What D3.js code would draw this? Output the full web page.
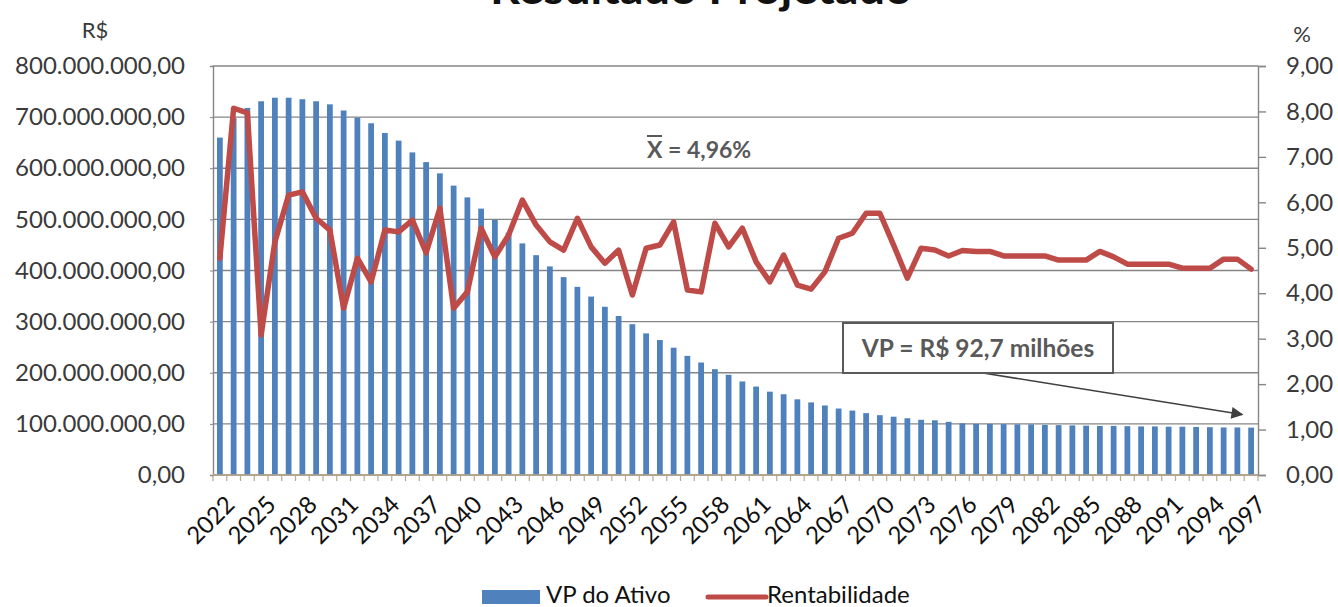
<!DOCTYPE html>
<html lang="pt-BR">
<head>
<meta charset="utf-8">
<script src="https://cdn.jsdelivr.net/npm/d3@7"></script>
<style>
  html, body { margin: 0; padding: 0; background: #fff; }
  svg { display: block; font-family: Lato, "Open Sans", sans-serif; }
</style>
</head>
<body>
<svg id="chart" width="1338" height="607"></svg>
<script>
// Anos da projeção
const years = [
  "2022","2023","2024","2025","2026","2027","2028","2029","2030","2031",
  "2032","2033","2034","2035","2036","2037","2038","2039","2040","2041",
  "2042","2043","2044","2045","2046","2047","2048","2049","2050","2051",
  "2052","2053","2054","2055","2056","2057","2058","2059","2060","2061",
  "2062","2063","2064","2065","2066","2067","2068","2069","2070","2071",
  "2072","2073","2074","2075","2076","2077","2078","2079","2080","2081",
  "2082","2083","2084","2085","2086","2087","2088","2089","2090","2091",
  "2092","2093","2094","2095","2096","2097"
];

// Valor presente do ativo (R$ milhões)
const vpAtivo = [
  660, 698, 718, 731, 738, 738, 735, 731, 725, 713,
  699, 688, 669, 654, 631, 612, 590, 566, 543, 521,
  499, 474, 453, 430, 408, 387, 368, 349, 329, 311,
  295, 277, 264, 249, 233, 220, 207, 196, 183, 173,
  163, 158, 148, 142, 136, 130, 126, 121, 117, 114,
  111, 108, 107, 104, 101, 100, 100, 99.5, 99, 99,
  98, 97.5, 97, 96.5, 96, 96, 95.5, 95, 95, 94.5,
  94.5, 94, 93.5, 93, 93, 92.7
];

// Rentabilidade anual (%)
const rentabilidade = [
  4.77, 8.07, 7.97, 3.08, 5.13, 6.16, 6.23, 5.65, 5.39, 3.67,
  4.77, 4.25, 5.39, 5.35, 5.61, 4.89, 5.87, 3.67, 4.03, 5.43,
  4.80, 5.28, 6.05, 5.50, 5.13, 4.95, 5.65, 5.02, 4.66, 4.95,
  3.96, 4.99, 5.06, 5.57, 4.07, 4.03, 5.54, 5.02, 5.43, 4.69,
  4.25, 4.84, 4.18, 4.09, 4.47, 5.21, 5.32, 5.76, 5.76, 5.06,
  4.33, 4.99, 4.95, 4.82, 4.94, 4.92, 4.92, 4.82, 4.82, 4.82,
  4.82, 4.73, 4.73, 4.73, 4.92, 4.80, 4.64, 4.64, 4.64, 4.64,
  4.55, 4.55, 4.55, 4.75, 4.75, 4.53
];

// Ticks dos eixos
const leftTicks = [0, 100, 200, 300, 400, 500, 600, 700, 800];       // R$ milhões
const rightTicks = [0, 1, 2, 3, 4, 5, 6, 7, 8, 9];                   // %
const mediaRentabilidade = 4.96;

const ptBR = d3.formatLocale({ decimal: ",", thousands: ".", grouping: [3], currency: ["R$ ", ""] });
const fmtMoney = ptBR.format(",.2f");
const fmtPct = ptBR.format(",.2f");
const fmtMilhoes = ptBR.format(",.1f");

const BLUE = "#4f81bd", RED = "#be4b48", GRID = "#868686", TXT = "#3a3a3a", NOTE = "#595959";

const svg = d3.select("#chart");
const plot = { left: 213, right: 1258, top: 66, bottom: 475 };

const x = d3.scaleBand().domain(years).range([plot.left, plot.right])
  .paddingInner(0.58).paddingOuter(0.29);
const yL = d3.scaleLinear().domain([0, 800]).range([plot.bottom, plot.top]);
const yR = d3.scaleLinear().domain([0, 9]).range([plot.bottom, plot.top]);

// Título
svg.append("text")
  .attr("x", 701).attr("y", 4)
  .attr("text-anchor", "middle")
  .attr("font-size", 44).attr("font-weight", 700).attr("fill", "#111")
  .attr("textLength", 422).attr("lengthAdjust", "spacingAndGlyphs")
  .text("Resultado Projetado");

// Unidades dos eixos
svg.append("text").attr("x", 95).attr("y", 38).attr("text-anchor", "middle")
  .attr("font-size", 22).attr("fill", TXT).text("R$");
svg.append("text").attr("x", 1302).attr("y", 42).attr("text-anchor", "middle")
  .attr("font-size", 22).attr("fill", TXT).text("%");

// Linhas de grade
svg.append("g")
  .selectAll("line").data(leftTicks).join("line")
  .attr("x1", plot.left).attr("x2", plot.right)
  .attr("y1", d => yL(d)).attr("y2", d => yL(d))
  .attr("stroke", GRID).attr("stroke-width", 1.4);

// Barras – VP do Ativo
svg.append("g")
  .selectAll("rect").data(years).join("rect")
  .attr("x", d => x(d)).attr("width", x.bandwidth())
  .attr("y", (d, i) => yL(vpAtivo[i]))
  .attr("height", (d, i) => yL(0) - yL(vpAtivo[i]))
  .attr("fill", BLUE);

// Eixo esquerdo
const axL = svg.append("g").attr("transform", `translate(${plot.left},0)`)
  .call(d3.axisLeft(yL).tickValues(leftTicks).tickSize(3).tickPadding(25)
    .tickFormat(d => fmtMoney(d * 1e6)));
axL.select(".domain").attr("stroke", GRID).attr("stroke-width", 1.4);
axL.selectAll(".tick line").attr("stroke", GRID);
axL.selectAll("text").attr("font-size", 24).attr("fill", TXT)
  .attr("font-family", "Lato, sans-serif");

// Eixo direito
const axR = svg.append("g").attr("transform", `translate(${plot.right},0)`)
  .call(d3.axisRight(yR).tickValues(rightTicks).tickSize(8).tickPadding(20)
    .tickFormat(fmtPct));
axR.select(".domain").attr("stroke", GRID).attr("stroke-width", 1.4);
axR.selectAll(".tick line").attr("stroke", GRID).attr("stroke-width", 1.4);
axR.selectAll("text").attr("font-size", 24).attr("fill", TXT)
  .attr("font-family", "Lato, sans-serif");

// Eixo das categorias (anos)
const step = x.step();
svg.append("line")
  .attr("x1", plot.left).attr("x2", plot.right)
  .attr("y1", plot.bottom).attr("y2", plot.bottom)
  .attr("stroke", "#b8a68a").attr("stroke-width", 1.3);
svg.append("g").selectAll("line").data(d3.range(years.length + 1)).join("line")
  .attr("x1", i => plot.left + i * step).attr("x2", i => plot.left + i * step)
  .attr("y1", plot.bottom).attr("y2", plot.bottom + 6)
  .attr("stroke", "#b8a68a").attr("stroke-width", 1.2);
svg.append("g").selectAll("text")
  .data(years.filter((d, i) => i % 3 === 0)).join("text")
  .attr("transform", d => `translate(${x(d) + x.bandwidth() / 2 + 4},${plot.bottom + 19}) rotate(-45)`)
  .attr("text-anchor", "end").attr("dy", "0.72em")
  .attr("font-size", 24).attr("fill", "#111")
  .text(d => d);

// Linha – Rentabilidade
const line = d3.line()
  .x((d, i) => x(years[i]) + x.bandwidth() / 2)
  .y(d => yR(d));
svg.append("path").datum(rentabilidade)
  .attr("d", line).attr("fill", "none")
  .attr("stroke", RED).attr("stroke-width", 5.5)
  .attr("stroke-linejoin", "round").attr("stroke-linecap", "round");

// Média da rentabilidade
const mediaX = 647, mediaY = 158;
svg.append("text")
  .attr("x", mediaX).attr("y", mediaY)
  .attr("font-size", 23).attr("font-weight", 700).attr("fill", NOTE)
  .text(`X = ${fmtPct(mediaRentabilidade)}%`);
svg.append("line")
  .attr("x1", mediaX).attr("x2", mediaX + 15)
  .attr("y1", mediaY - 22).attr("y2", mediaY - 22)
  .attr("stroke", NOTE).attr("stroke-width", 2);

// Destaque do último VP
const lastIdx = years.length - 1;
const tipX = x(years[lastIdx]) - 6, tipY = yL(vpAtivo[lastIdx]) - 13;
const box = { x: 843, y: 323, w: 270, h: 50 };
svg.append("defs").append("marker")
  .attr("id", "seta").attr("viewBox", "0 0 10 10")
  .attr("refX", 9).attr("refY", 5)
  .attr("markerWidth", 16).attr("markerHeight", 12).attr("markerUnits", "userSpaceOnUse")
  .attr("orient", "auto")
  .append("path").attr("d", "M0,0L10,5L0,10Z").attr("fill", "#404040");
svg.append("line")
  .attr("x1", 983).attr("y1", box.y + box.h)
  .attr("x2", tipX).attr("y2", tipY)
  .attr("stroke", "#404040").attr("stroke-width", 1.5)
  .attr("marker-end", "url(#seta)");
svg.append("rect")
  .attr("x", box.x).attr("y", box.y).attr("width", box.w).attr("height", box.h)
  .attr("fill", "#fff").attr("stroke", NOTE).attr("stroke-width", 2);
svg.append("text")
  .attr("x", box.x + box.w / 2).attr("y", box.y + 34)
  .attr("text-anchor", "middle")
  .attr("font-size", 24.5).attr("font-weight", 700).attr("fill", NOTE)
  .text(`VP = R$ ${fmtMilhoes(vpAtivo[lastIdx])} milhões`);

// Legenda
const leg = svg.append("g");
leg.append("rect").attr("x", 482).attr("y", 590).attr("width", 58).attr("height", 14).attr("fill", BLUE);
leg.append("text").attr("x", 546).attr("y", 603).attr("font-size", 24).attr("fill", "#111").text("VP do Ativo");
leg.append("line").attr("x1", 708).attr("x2", 766).attr("y1", 597).attr("y2", 597)
  .attr("stroke", RED).attr("stroke-width", 5).attr("stroke-linecap", "round");
leg.append("text").attr("x", 767).attr("y", 603).attr("font-size", 24).attr("fill", "#111").text("Rentabilidade");
</script>
</body>
</html>
